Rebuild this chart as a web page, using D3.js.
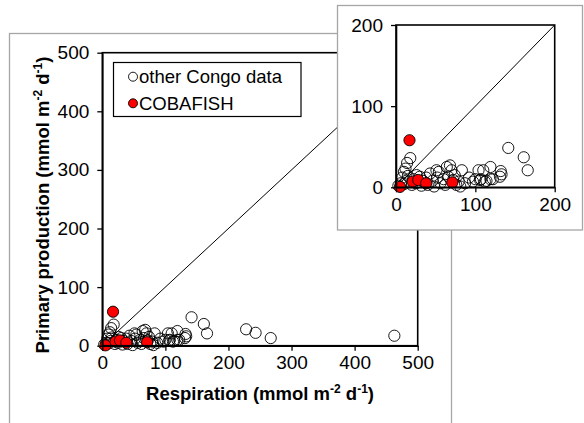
<!DOCTYPE html>
<html>
<head>
<meta charset="utf-8">
<script src="https://cdn.jsdelivr.net/npm/d3@7"></script>
<style>
  body { margin: 0; background: #fff; }
  svg { display: block; font-family: "Liberation Sans", Arial, sans-serif; }
</style>
</head>
<body>
<div id="chart"></div>
<script>
// other Congo data: respiration (x) and primary production (y), mmol m-2 d-1
const otherResp = [3, 6, 8, 10, 12, 14, 18, 10, 13, 15, 20, 22, 25, 26, 30, 32, 34, 38, 40, 43,
  46, 48, 51, 52, 54, 56, 60, 62, 64, 66, 68, 70, 72, 74, 76, 79, 81, 83, 87, 92,
  97, 100, 104, 106, 107, 110, 112, 114, 119, 119, 122, 131, 132, 133, 141.5, 161, 166, 228, 243, 267, 463];
const otherProd = [2, 5, 12, 19, 23, 30, 36, 4, 8, 14, 3, 10, 5, 15, 13, 2, 8, 12, 3, 17,
  8, 1, 21, 12, 19, 5, 10, 3, 25, 13, 27, 21, 9, 15, 3, 7, 1, 21, 5, 12,
  7, 10, 21, 9, 10, 21, 7, 8, 25, 10, 10, 13, 20, 16, 48.5, 37, 21, 28, 22, 13, 17];
// COBAFISH
const cobaResp = [5, 17, 21, 28, 38, 71];
const cobaProd = [0.5, 58, 7, 9, 5, 6];

const mainTicks = [0, 100, 200, 300, 400, 500];
const insetTicks = [0, 100, 200];
const legendLabels = ["other Congo data", "COBAFISH"];

const W = 584, H = 423;
const svg = d3.select("#chart").append("svg").attr("width", W).attr("height", H);
const defs = svg.append("defs");

const other = otherResp.map((r, i) => ({ r, p: otherProd[i] }));
const coba = cobaResp.map((r, i) => ({ r, p: cobaProd[i] }));

// draws one scatter panel (box, axes, 1:1 line, points)
function panel(g, x, y, ticks, id) {
  const [x0, x1] = x.range();
  const [y0, y1] = y.range();
  const pad = 6;

  // keep points inside the plot (plus a marker's width)
  defs.append("clipPath").attr("id", id).append("rect")
    .attr("x", x0 - pad).attr("y", y1 - pad)
    .attr("width", x1 - x0 + 2 * pad).attr("height", y0 - y1 + 2 * pad);
  const pts = g.append("g").attr("clip-path", `url(#${id})`);

  pts.append("line")
    .attr("x1", x(0)).attr("y1", y(0))
    .attr("x2", x(ticks[ticks.length - 1])).attr("y2", y(ticks[ticks.length - 1]))
    .attr("stroke", "#000").attr("stroke-width", 1);

  pts.append("g").selectAll("circle")
    .data(other.filter(d => d.r <= ticks[ticks.length - 1])).join("circle")
    .attr("cx", d => x(d.r)).attr("cy", d => y(d.p)).attr("r", 5.6)
    .attr("fill", "none").attr("stroke", "#000").attr("stroke-width", 0.9);

  pts.append("g").selectAll("circle").data(coba).join("circle")
    .attr("cx", d => x(d.r)).attr("cy", d => y(d.p)).attr("r", 5.6)
    .attr("fill", "#ff0000").attr("stroke", "#000").attr("stroke-width", 0.9);

  g.append("rect")
    .attr("x", x0).attr("y", y1).attr("width", x1 - x0).attr("height", y0 - y1)
    .attr("fill", "none").attr("stroke", "#000").attr("stroke-width", 1.6);

  const ax = g.append("g").attr("transform", `translate(0,${y0})`)
    .call(d3.axisBottom(x).tickValues(ticks).tickSize(5).tickSizeOuter(0).tickPadding(5));
  const ay = g.append("g").attr("transform", `translate(${x0},0)`)
    .call(d3.axisLeft(y).tickValues(ticks).tickSize(5).tickSizeOuter(0).tickPadding(8));
  [ax, ay].forEach(a => {
    a.select(".domain").attr("stroke", "#000").attr("stroke-width", 1.6);
    a.selectAll(".tick line").attr("stroke", "#000").attr("stroke-width", 1.3);
    a.selectAll(".tick text").attr("font-size", 19).attr("fill", "#000")
      .attr("font-family", "Liberation Sans, Arial, sans-serif");
  });
}

// main panel
svg.append("rect").attr("x", 9.5).attr("y", 33.5).attr("width", 442).attr("height", 420)
  .attr("fill", "#fff").attr("stroke", "#a6a6a6").attr("stroke-width", 1.3);

const xMain = d3.scaleLinear().domain([0, 500]).range([102.3, 417.7]);
const yMain = d3.scaleLinear().domain([0, 500]).range([345.7, 52.7]);
panel(svg.append("g"), xMain, yMain, mainTicks, "clipMain");

// axis titles
function unitTitle(sel, label) {
  sel.append("tspan").text(label + " (mmol m");
  sel.append("tspan").attr("dy", -7).attr("font-size", 12).text("-2");
  sel.append("tspan").attr("dy", 7).text(" d");
  sel.append("tspan").attr("dy", -7).attr("font-size", 12).text("-1");
  sel.append("tspan").attr("dy", 7).text(")");
}
unitTitle(svg.append("text").attr("x", 260).attr("y", 400).attr("text-anchor", "middle")
  .attr("font-size", 18.5).attr("font-weight", "bold"), "Respiration");
unitTitle(svg.append("text").attr("transform", "translate(49,205) rotate(-90)")
  .attr("text-anchor", "middle").attr("font-size", 18.5).attr("font-weight", "bold"), "Primary production");

// legend
const leg = svg.append("g");
leg.append("rect").attr("x", 113.5).attr("y", 62.5).attr("width", 187.5).attr("height", 54)
  .attr("fill", "#fff").attr("stroke", "#000").attr("stroke-width", 1.2);
legendLabels.forEach((t, i) => {
  const cy = 76.7 + i * 26.6;
  leg.append("circle").attr("cx", 133).attr("cy", cy).attr("r", 4.5)
    .attr("fill", i === 0 ? "#fff" : "#ff0000").attr("stroke", "#000").attr("stroke-width", 0.9);
  leg.append("text").attr("x", 139).attr("y", cy).attr("dy", "0.36em")
    .attr("font-size", 18.5).text(t);
});

// inset panel
svg.append("rect").attr("x", 337.5).attr("y", 5.5).attr("width", 245).attr("height", 224.5)
  .attr("fill", "#fff").attr("stroke", "#a6a6a6").attr("stroke-width", 1.3);
const xIn = d3.scaleLinear().domain([0, 200]).range([396, 554.7]);
const yIn = d3.scaleLinear().domain([0, 200]).range([187.3, 25]);
panel(svg.append("g"), xIn, yIn, insetTicks, "clipInset");
</script>
</body>
</html>
